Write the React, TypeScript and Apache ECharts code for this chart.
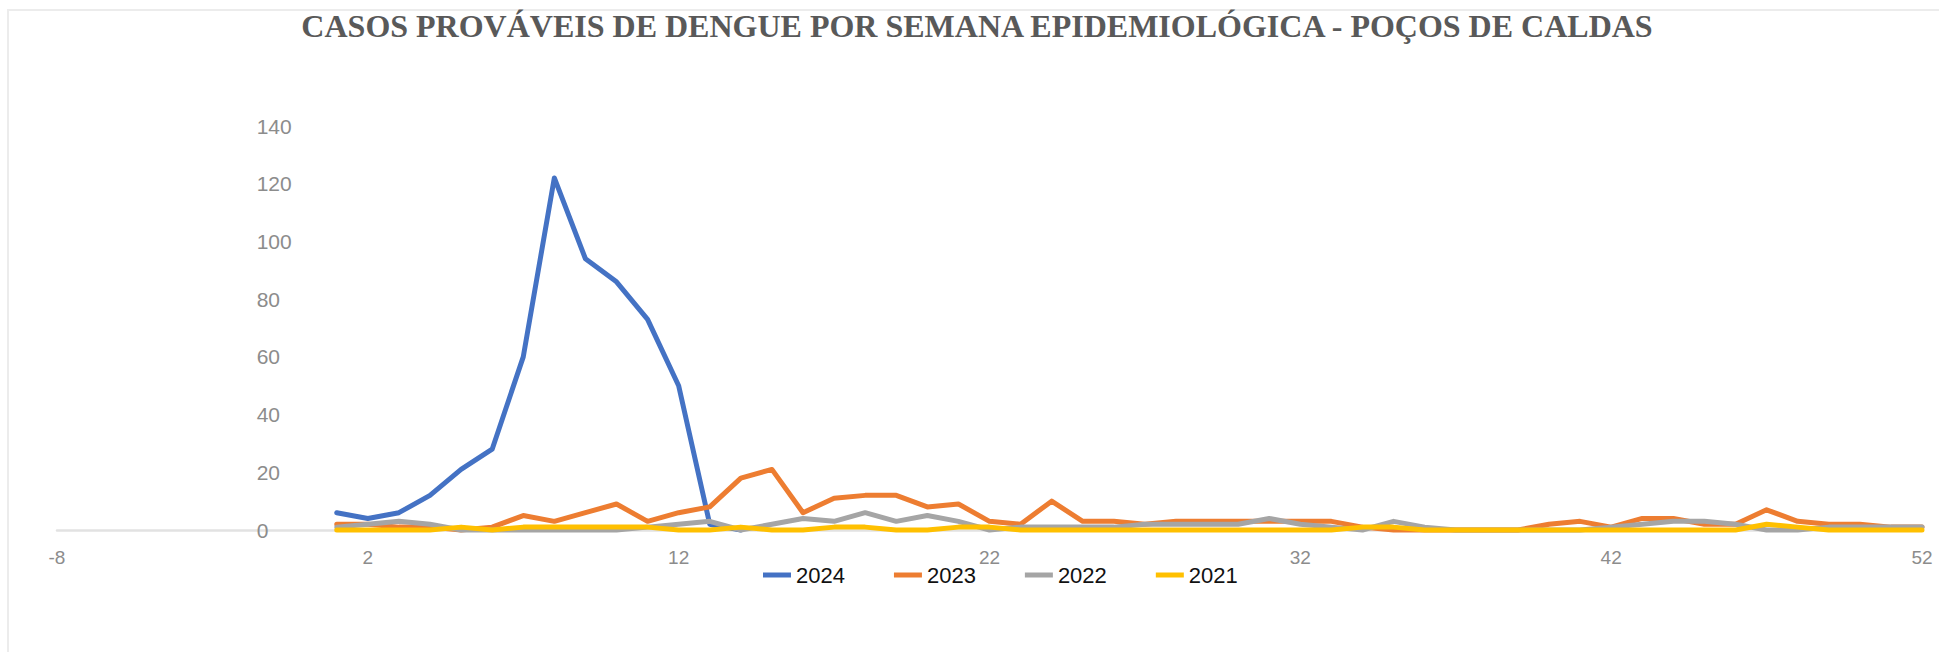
import React, { useEffect, useRef } from "react";
import * as echarts from "echarts";

const TITLE = "CASOS PROVÁVEIS DE DENGUE POR SEMANA EPIDEMIOLÓGICA - POÇOS DE CALDAS";

const WEEKS = [
  1, 2, 3, 4, 5, 6, 7, 8, 9, 10, 11, 12, 13, 14, 15, 16, 17, 18, 19, 20, 21, 22, 23, 24, 25, 26,
  27, 28, 29, 30, 31, 32, 33, 34, 35, 36, 37, 38, 39, 40, 41, 42, 43, 44, 45, 46, 47, 48, 49, 50, 51, 52,
];

const SERIES_NAMES = ["2024", "2023", "2022", "2021"];

const CASES_2024 = [6, 4, 6, 12, 21, 28, 60, 122, 94, 86, 73, 50, 2, 0];

const CASES_2023 = [
  2, 2, 1, 1, 0, 1, 5, 3, 6, 9,
  3, 6, 8, 18, 21, 6, 11, 12, 12, 8,
  9, 3, 2, 10, 3, 3, 2, 3, 3, 3,
  3, 3, 3, 1, 0, 0, 0, 0, 0, 2,
  3, 1, 4, 4, 2, 2, 7, 3, 2, 2,
  1, 1,
];

const CASES_2022 = [
  1, 2, 3, 2, 0, 0, 0, 0, 0, 0,
  1, 2, 3, 0, 2, 4, 3, 6, 3, 5,
  3, 0, 1, 1, 1, 1, 2, 2, 2, 2,
  4, 2, 1, 0, 3, 1, 0, 0, 0, 0,
  0, 1, 2, 3, 3, 2, 0, 0, 1, 1,
  1, 1,
];

const CASES_2021 = [
  0, 0, 0, 0, 1, 0, 1, 1, 1, 1,
  1, 0, 0, 1, 0, 0, 1, 1, 0, 0,
  1, 1, 0, 0, 0, 0, 0, 0, 0, 0,
  0, 0, 0, 1, 1, 0, 0, 0, 0, 0,
  0, 0, 0, 0, 0, 0, 2, 1, 0, 0,
  0, 0,
];

const X_MIN = -8;
const X_MAX = 52;
const X_INTERVAL = 10;
const Y_MIN = 0;
const Y_MAX = 140;
const Y_INTERVAL = 20;

const COLORS = ["#4472C4", "#ED7D31", "#A5A5A5", "#FFC000"];

export default function App() {
  const ref = useRef<HTMLDivElement>(null);

  useEffect(() => {
    if (!ref.current) return;
    const chart = echarts.init(ref.current, null, { renderer: "svg" });
    const values = [CASES_2024, CASES_2023, CASES_2022, CASES_2021];
    const toPairs = (vals: number[]) => vals.map((v, i) => [WEEKS[i], v]);

    const gridLeft = 57;
    const gridRight = 17;
    const plotWidth = 1939 - gridLeft - gridRight;
    // y axis sits at x = 0 of the value x axis
    const yAxisShift = ((0 - X_MIN) / (X_MAX - X_MIN)) * plotWidth;

    chart.setOption({
      animation: false,
      backgroundColor: "#ffffff",
      graphic: [
        {
          type: "rect",
          silent: true,
          shape: { x: 8, y: 10, width: 1960, height: 680 },
          style: { fill: "none", stroke: "#ececec", lineWidth: 2 },
        },
      ],
      title: {
        text: TITLE,
        left: 972,
        textAlign: "center",
        top: 5,
        textStyle: {
          fontFamily: "Liberation Serif",
          fontWeight: "bold",
          fontSize: 32,
          color: "#595959",
        },
      },
      legend: {
        data: SERIES_NAMES,
        left: 758,
        top: 559,
        icon: "rect",
        itemWidth: 28,
        itemHeight: 5,
        itemGap: 49,
        textStyle: {
          fontFamily: "Liberation Sans",
          fontSize: 22,
          color: "#111111",
        },
      },
      grid: {
        left: gridLeft,
        right: gridRight,
        top: 126,
        bottom: 122,
        containLabel: false,
      },
      xAxis: {
        type: "value",
        min: X_MIN,
        max: X_MAX,
        interval: X_INTERVAL,
        axisLine: { show: true, lineStyle: { color: "#e2e2e2", width: 2.5 } },
        axisTick: { show: false },
        splitLine: { show: false },
        axisLabel: {
          margin: 18,
          fontFamily: "Liberation Sans",
          fontSize: 19,
          color: "#8c8c8c",
        },
      },
      yAxis: {
        type: "value",
        min: Y_MIN,
        max: Y_MAX,
        interval: Y_INTERVAL,
        offset: -yAxisShift,
        axisLine: { show: false, onZero: false },
        axisTick: { show: false },
        splitLine: { show: false },
        axisLabel: {
          align: "left",
          margin: 49,
          fontFamily: "Liberation Sans",
          fontSize: 21,
          color: "#8c8c8c",
        },
      },
      series: SERIES_NAMES.map((name, i) => ({
        name,
        type: "line",
        data: toPairs(values[i]),
        color: COLORS[i],
        symbol: "none",
        showSymbol: false,
        clip: false,
        z: 2 + i,
        lineStyle: { width: 5, color: COLORS[i], cap: "round", join: "round" },
      })),
    });

    return () => chart.dispose();
  }, []);

  return (
    <div
      ref={ref}
      style={{ position: "fixed", left: 0, top: 0, width: "1939px", height: "652px" }}
    />
  );
}
